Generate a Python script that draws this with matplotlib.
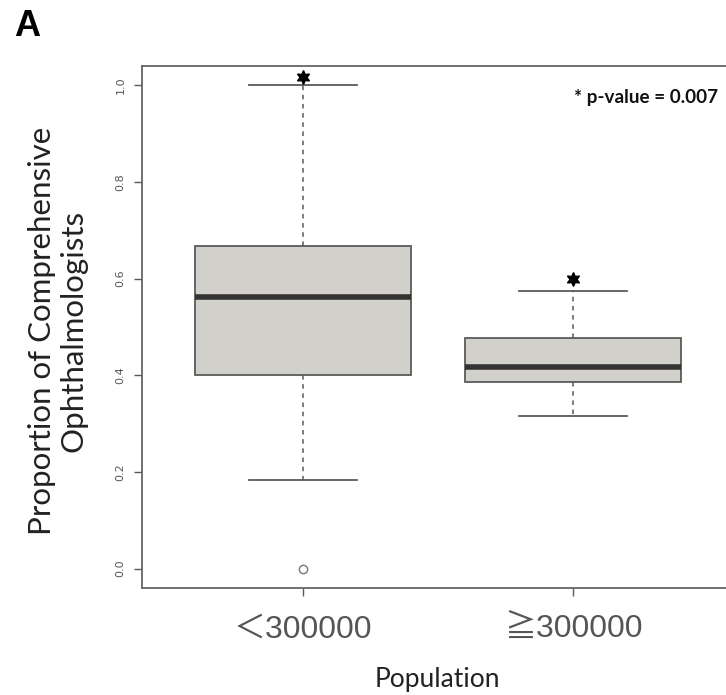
import matplotlib.pyplot as plt

# Box statistics
groups = ['＜300000', '≧300000']
q1 = [0.400, 0.386]
med = [0.5625, 0.418]
q3 = [0.667, 0.478]
whislo = [0.183, 0.316]
whishi = [1.000, 0.575]
fliers = [[0.0], []]
star_y = [1.018, 0.600]
yticks = [0.0, 0.2, 0.4, 0.6, 0.8, 1.0]
ptext = '* p-value = 0.007'

W, H = 726, 695
fig = plt.figure(figsize=(W / 100, H / 100), dpi=100)
# axes frame in pixels: left 142, right 734 (cut off by figure edge), top 66, bottom 588
ax = fig.add_axes([142 / W, (H - 588) / H, (734 - 142) / W, (588 - 66) / H])

stats = []
for i in range(len(groups)):
    stats.append(dict(q1=q1[i], med=med[i], q3=q3[i], whislo=whislo[i],
                      whishi=whishi[i], fliers=fliers[i], label=groups[i]))

edge = '#5a5a5a'
ax.bxp(stats, positions=[1, 2], widths=0.8, patch_artist=True,
       boxprops=dict(facecolor='#d2d0cb', edgecolor=edge, linewidth=1.3),
       medianprops=dict(color='#333333', linewidth=4, solid_capstyle='butt'),
       whiskerprops=dict(color=edge, linewidth=1.1, linestyle=(0, (3, 3))),
       capprops=dict(color=edge, linewidth=1.3),
       capwidths=0.4,
       flierprops=dict(marker='o', markerfacecolor='none', markeredgecolor='#777777',
                       markersize=6, markeredgewidth=1.0))

# significance stars
ax.plot([1, 2], star_y, linestyle='none', marker=(6, 1, 0), color='black',
        markersize=10)

ax.set_xlim(0.404, 2.596)
ax.set_ylim(-0.04, 1.04)
ax.set_yticks(yticks)
ax.set_yticklabels([f'{v:.1f}' for v in yticks], rotation=90, va='center',
                   fontsize=8, color='#555555')
ax.tick_params(axis='y', length=6, width=1, color=edge, pad=6)
ax.set_xticks([1, 2])
ax.set_xticklabels(groups, family=['Liberation Sans', 'Noto Sans CJK JP'],
                   fontsize=23, color='#555555')
ax.tick_params(axis='x', length=6, width=1, color=edge, pad=13)
for s in ax.spines.values():
    s.set_color('#666666')
    s.set_linewidth(1.3)

fig.text(437 / W, 1 - 687 / H, 'Population', ha='center', va='baseline',
         family='Lato', fontsize=19, color='#222222')
fig.text(58 / W, 1 - 331 / H, 'Proportion of Comprehensive\nOphthalmologists',
         rotation=90, ha='center', va='center', family='Lato', fontsize=22.5,
         color='#222222', linespacing=1.15)

fig.text(574 / W, 1 - 97 / H, ptext, ha='left', va='center', family='Lato',
         fontweight='bold', fontsize=13.6, color='#111111')
fig.text(14 / W, 1 - 26 / H, 'A', ha='left', va='center', family='Liberation Sans',
         fontweight='bold', fontsize=26, color='black')

fig.savefig('out.png', dpi=100)
